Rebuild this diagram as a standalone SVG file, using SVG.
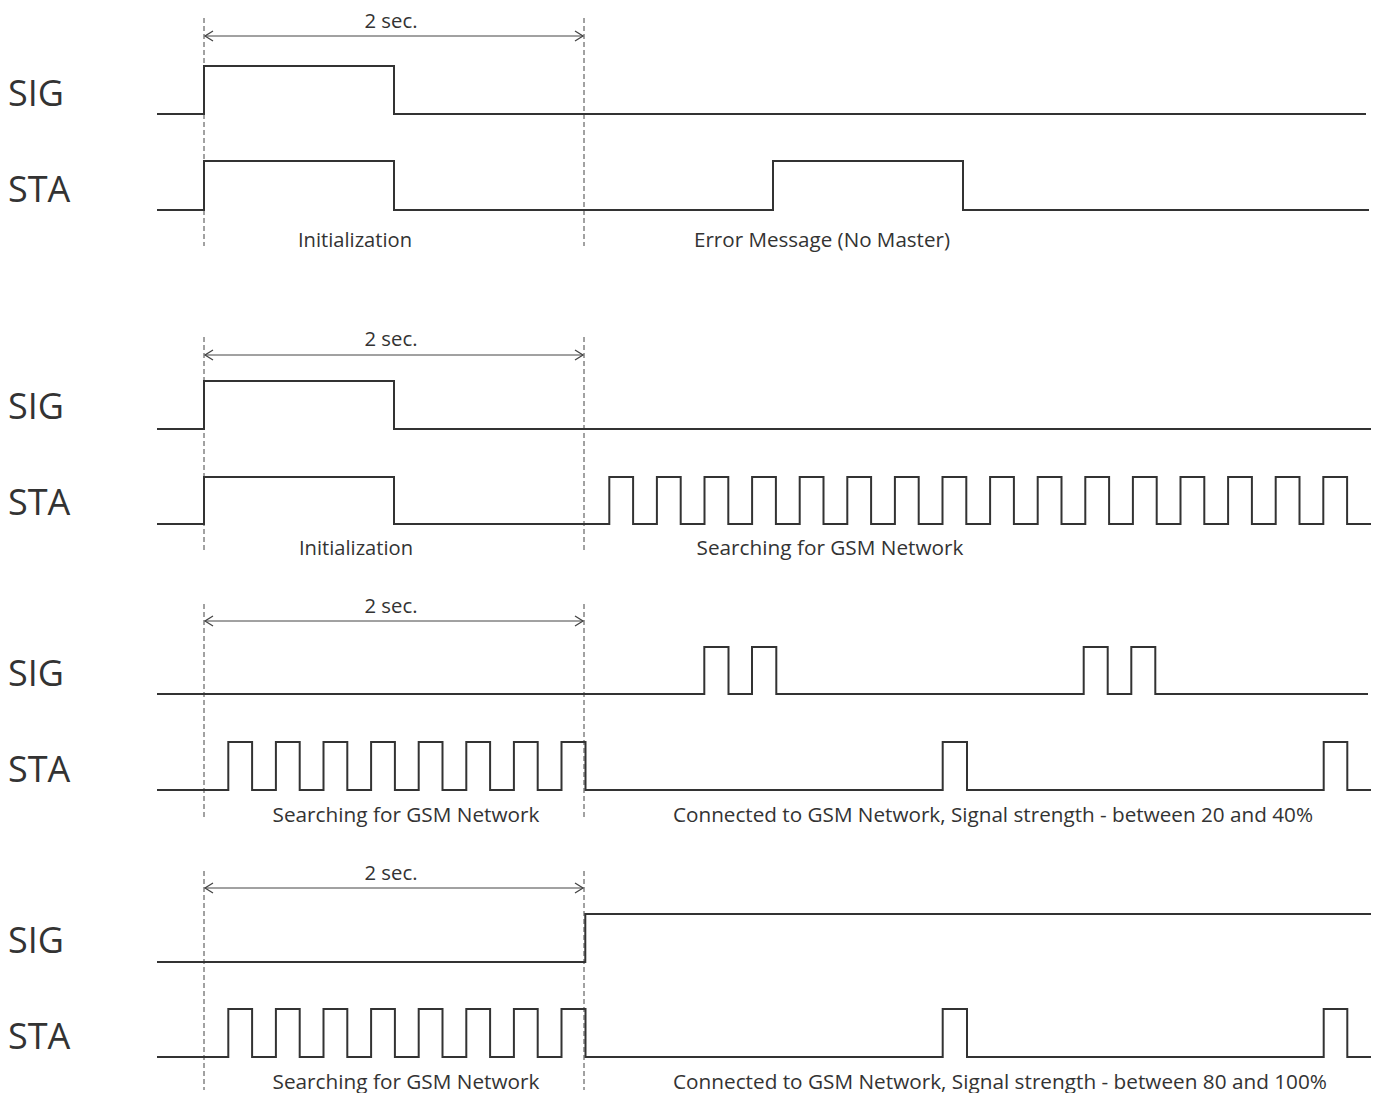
<svg xmlns="http://www.w3.org/2000/svg" width="1379" height="1093" viewBox="0 0 1379 1093">
<style>
.bg{fill:#fff}
.sig{fill:none;stroke:#333;stroke-width:2}
.dash{fill:none;stroke:#444;stroke-width:1;stroke-dasharray:5 3}
.dim{fill:none;stroke:#444;stroke-width:1}
.lbl{font-family:"Open Sans","Liberation Sans",sans-serif;font-size:36px;fill:#333}
.txt{font-family:"Open Sans","Liberation Sans",sans-serif;font-size:20.5px;fill:#333;text-anchor:middle}
</style>
<defs>
<marker id="chev" markerWidth="12" markerHeight="12" refX="10" refY="6" orient="auto-start-reverse" markerUnits="userSpaceOnUse">
<path d="M2,1 L10,6 L2,11" fill="none" stroke="#444" stroke-width="1.3"/>
</marker>
</defs>
<rect class="bg" width="1379" height="1093"/>

<g id="panel1">
<text class="lbl" x="8" y="106">SIG</text>
<text class="lbl" x="8" y="202">STA</text>
<g id="p1-connectors">
<line class="dash" x1="204" y1="18" x2="204" y2="246"/>
<line class="dash" x1="584" y1="18" x2="584" y2="246"/>
<line class="dim" x1="205" y1="36" x2="583" y2="36" marker-start="url(#chev)" marker-end="url(#chev)"/>
<path class="sig" d="M157,114 H204 V66 H394 V114 H1366"/>
<path class="sig" d="M157,210 H204 V161 H394 V210 H773 V161 H963 V210 H1369"/>
</g>
<text class="txt" x="391" y="28" textLength="53" lengthAdjust="spacingAndGlyphs">2 sec.</text>
<text class="txt" x="355" y="247" textLength="114" lengthAdjust="spacingAndGlyphs">Initialization</text>
<text class="txt" x="822" y="247" textLength="256" lengthAdjust="spacingAndGlyphs">Error Message (No Master)</text>
</g>

<g id="panel2">
<text class="lbl" x="8" y="419">SIG</text>
<text class="lbl" x="8" y="515">STA</text>
<g id="p2-connectors">
<line class="dash" x1="204" y1="337" x2="204" y2="553"/>
<line class="dash" x1="584" y1="337" x2="584" y2="553"/>
<line class="dim" x1="205" y1="355" x2="583" y2="355" marker-start="url(#chev)" marker-end="url(#chev)"/>
<path class="sig" d="M157,429 H204 V381 H394 V429 H1371"/>
<path class="sig" d="M157,524 H204 V477 H394 V524 H609.3 V477 H633.1 V524 H656.9 V477 H680.7 V524 H704.5 V477 H728.3 V524 H752.1 V477 H775.9 V524 H799.7 V477 H823.5 V524 H847.3 V477 H871.1 V524 H894.9 V477 H918.7 V524 H942.5 V477 H966.3 V524 H990.1 V477 H1013.9 V524 H1037.7 V477 H1061.5 V524 H1085.3 V477 H1109.1 V524 H1132.9 V477 H1156.7 V524 H1180.5 V477 H1204.3 V524 H1228.1 V477 H1251.9 V524 H1275.7 V477 H1299.5 V524 H1323.3 V477 H1347.1 V524 H1371"/>
</g>
<text class="txt" x="391" y="346" textLength="53" lengthAdjust="spacingAndGlyphs">2 sec.</text>
<text class="txt" x="356" y="555" textLength="114" lengthAdjust="spacingAndGlyphs">Initialization</text>
<text class="txt" x="830" y="555" textLength="267" lengthAdjust="spacingAndGlyphs">Searching for GSM Network</text>
</g>

<g id="panel3">
<text class="lbl" x="8" y="686">SIG</text>
<text class="lbl" x="8" y="782">STA</text>
<g id="p3-connectors">
<line class="dash" x1="204" y1="604" x2="204" y2="820"/>
<line class="dash" x1="584" y1="604" x2="584" y2="820"/>
<line class="dim" x1="205" y1="621" x2="583" y2="621" marker-start="url(#chev)" marker-end="url(#chev)"/>
<path class="sig" d="M157,694 H704.3 V647 H728.5 V694 H752 V647 H776.3 V694 H1083.7 V647 H1107.7 V694 H1131.3 V647 H1155.3 V694 H1368"/>
<path class="sig" d="M157,790 H228.3 V742 H252.1 V790 H275.9 V742 H299.7 V790 H323.5 V742 H347.3 V790 H371.1 V742 H394.9 V790 H418.7 V742 H442.5 V790 H466.3 V742 H490.1 V790 H513.9 V742 H537.7 V790 H561.5 V742 H585.5 V790 H942.7 V742 H967 V790 H1323.7 V742 H1347.3 V790 H1371"/>
</g>
<text class="txt" x="391" y="613" textLength="53" lengthAdjust="spacingAndGlyphs">2 sec.</text>
<text class="txt" x="406" y="822" textLength="267" lengthAdjust="spacingAndGlyphs">Searching for GSM Network</text>
<text class="txt" x="993" y="822" textLength="640" lengthAdjust="spacingAndGlyphs">Connected to GSM Network, Signal strength - between 20 and 40%</text>
</g>

<g id="panel4">
<text class="lbl" x="8" y="953">SIG</text>
<text class="lbl" x="8" y="1049">STA</text>
<g id="p4-connectors">
<line class="dash" x1="204" y1="871" x2="204" y2="1090"/>
<line class="dash" x1="584" y1="871" x2="584" y2="1090"/>
<line class="dim" x1="205" y1="888" x2="583" y2="888" marker-start="url(#chev)" marker-end="url(#chev)"/>
<path class="sig" d="M157,962 H585.3 V914 H1371"/>
<path class="sig" d="M157,1057 H228.3 V1009 H252.1 V1057 H275.9 V1009 H299.7 V1057 H323.5 V1009 H347.3 V1057 H371.1 V1009 H394.9 V1057 H418.7 V1009 H442.5 V1057 H466.3 V1009 H490.1 V1057 H513.9 V1009 H537.7 V1057 H561.5 V1009 H585.5 V1057 H942.7 V1009 H967 V1057 H1323.7 V1009 H1347.3 V1057 H1371"/>
</g>
<text class="txt" x="391" y="880" textLength="53" lengthAdjust="spacingAndGlyphs">2 sec.</text>
<text class="txt" x="406" y="1089" textLength="267" lengthAdjust="spacingAndGlyphs">Searching for GSM Network</text>
<text class="txt" x="1000" y="1089" textLength="654" lengthAdjust="spacingAndGlyphs">Connected to GSM Network, Signal strength - between 80 and 100%</text>
</g>
</svg>
